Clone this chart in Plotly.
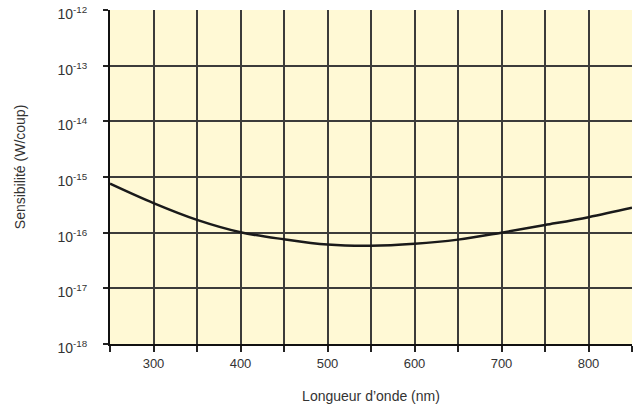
import plotly.graph_objects as go

wavelength_nm = [250, 300, 350, 400, 450, 500, 550, 600, 650, 700, 750, 800, 850]
sensitivity_w = [7.6e-16, 3.4e-16, 1.7e-16, 1.02e-16, 7.6e-17, 6.1e-17, 5.8e-17, 6.3e-17, 7.5e-17, 1.0e-16, 1.37e-16, 1.9e-16, 2.8e-16]

x_tickvals = [250, 300, 350, 400, 450, 500, 550, 600, 650, 700, 750, 800, 850]
x_ticktext = ["", "300", "", "400", "", "500", "", "600", "", "700", "", "800", ""]
y_exponents = [-18, -17, -16, -15, -14, -13, -12]

FONT = "Liberation Sans, Arial, sans-serif"

fig = go.Figure()
fig.add_trace(go.Scatter(
    x=wavelength_nm, y=sensitivity_w, mode="lines",
    line=dict(color="#1a1a1a", width=2.5, shape="spline"),
    showlegend=False, hoverinfo="skip"))

fig.update_layout(
    width=637, height=417,
    margin=dict(l=110, r=5, t=10, b=73),
    paper_bgcolor="white", plot_bgcolor="#FFF9D5",
    font=dict(family=FONT, size=13, color="#333333"),
    showlegend=False,
)
fig.update_xaxes(
    range=[250, 850], tickvals=x_tickvals, ticktext=x_ticktext,
    showgrid=True, gridcolor="#3c3c3a", gridwidth=1.5,
    showline=True, linecolor="#111111", linewidth=2,
    ticks="outside", ticklen=6, tickwidth=1.5, tickcolor="#222222",
    zeroline=False, automargin=False,
    tickfont=dict(family=FONT, size=13, color="#333333"),
    title=dict(text="Longueur d’onde (nm)", font=dict(family=FONT, size=14, color="#333333"), standoff=22),
)
fig.update_yaxes(
    type="log", range=[-18, -12],
    tickvals=[10.0 ** e for e in y_exponents],
    ticktext=[f"10<sup>{e}</sup>" for e in y_exponents],
    showgrid=True, gridcolor="#3c3c3a", gridwidth=1.5,
    showline=True, linecolor="#111111", linewidth=2,
    ticks="outside", ticklen=5, tickwidth=1.5, tickcolor="#222222",
    ticklabelstandoff=13, ticklabelshift=4, ticklabeloverflow="allow",
    tickfont=dict(family=FONT, size=14, color="#333333"),
    zeroline=False, automargin=False,
    title=None,
)
fig.add_annotation(
    text="Sensibilité (W/coup)", textangle=-90,
    xref="paper", yref="paper", x=-0.172, y=0.53,
    xanchor="center", yanchor="middle", showarrow=False,
    font=dict(family=FONT, size=14, color="#333333"))

fig.write_html("out.html", config={"displayModeBar": False},
               post_script="document.body.style.margin='0';")
